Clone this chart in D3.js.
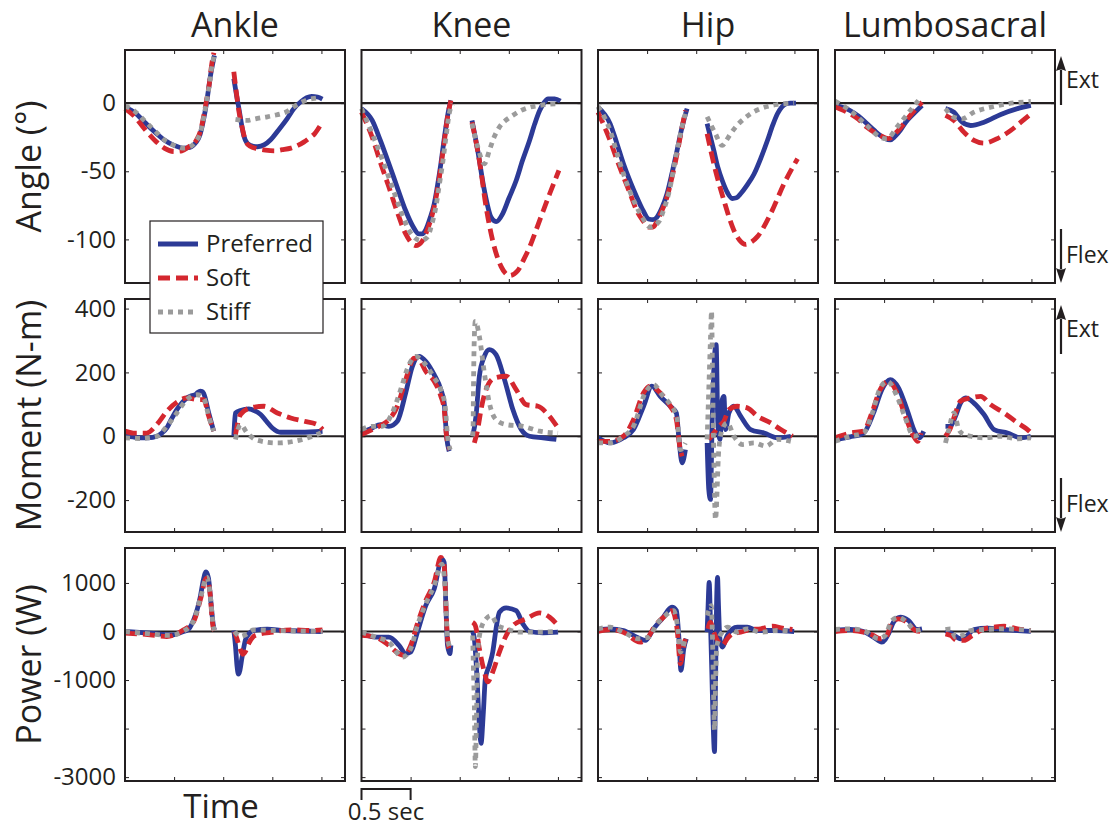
<!DOCTYPE html>
<html>
<head>
<meta charset="utf-8">
<script src="https://cdn.jsdelivr.net/npm/d3@7"></script>
<style>
  html, body { margin: 0; padding: 0; background: #fff; }
  svg { display: block; font-family: "Open Sans", "Noto Sans", sans-serif; }
</style>
</head>
<body>
<svg id="chart" width="1117" height="830"></svg>
<script>
// ---- labels & axes ----
const joints = ["Ankle", "Knee", "Hip", "Lumbosacral"];
const quantities = ["Angle (°)", "Moment (N-m)", "Power (W)"];
const conditions = ["Preferred", "Soft", "Stiff"];

const timeDomain = [0, 2.24];          // seconds
const timeTicks = [0.5, 1, 1.5, 2];
const angleDomain = [-132, 39];
const angleTicks = [-100, -50, 0];
const momentDomain = [-300, 430];
const momentTicks = [-200, 0, 200, 400];
const powerDomain = [-3080, 1720];
const powerTicks = [-3000, -2000, -1000, 0, 1000];
const powerLabelled = [-3000, -1000, 0, 1000];
const scaleBar = [0, 0.5];              // seconds
const scaleBarLabel = "0.5 sec";

// ---- joint angles (deg), each series = [first phase, second phase] of [time s, value] ----
const ankleAnglePreferred = [
  [[0,-3],[0.1,-7],[0.2,-14],[0.3,-21],[0.4,-27],[0.5,-31],[0.6,-33],[0.66,-32.5],[0.72,-29],[0.76,-24],[0.8,-12],[0.83,0],[0.85,10],[0.87,20],[0.89,28],[0.91,35]],
  [[1.108,18],[1.135,6],[1.16,-4],[1.19,-17],[1.21,-24],[1.245,-29.5],[1.28,-31],[1.35,-32],[1.42,-30.5],[1.48,-27],[1.56,-20],[1.65,-11.5],[1.72,-4],[1.79,1],[1.85,4],[1.9,5],[1.96,4.5],[2.01,3]]
];
const ankleAngleSoft = [
  [[0,-4],[0.1,-10],[0.2,-19],[0.3,-27],[0.4,-33],[0.5,-35.5],[0.58,-35],[0.65,-32],[0.72,-28],[0.77,-20],[0.8,-10],[0.83,2],[0.86,15],[0.88,27],[0.905,37]],
  [[1.108,23],[1.13,10],[1.16,-6],[1.19,-17],[1.225,-27],[1.27,-31.5],[1.35,-33.5],[1.43,-34.5],[1.52,-35],[1.6,-34.2],[1.69,-33],[1.76,-31],[1.82,-28.6],[1.88,-25.5],[1.93,-22.5],[1.97,-18.5],[2.01,-14]]
];
const ankleAngleStiff = [
  [[0,-2],[0.1,-6],[0.2,-13],[0.3,-20],[0.4,-27],[0.5,-31],[0.6,-33],[0.66,-32],[0.72,-28],[0.77,-21],[0.8,-11],[0.83,1],[0.86,14],[0.88,25],[0.905,34]],
  [[1.125,-12],[1.18,-12.5],[1.244,-12.7],[1.31,-11.8],[1.38,-10.8],[1.45,-10],[1.517,-9],[1.59,-7.8],[1.653,-6],[1.71,-3],[1.755,-1],[1.81,1],[1.858,2.4],[1.93,3.5],[1.994,4]]
];

const kneeAnglePreferred = [
  [[0,-4],[0.109,-12.7],[0.19,-27],[0.279,-44.5],[0.36,-61],[0.45,-79],[0.52,-90],[0.586,-96],[0.62,-96],[0.654,-93],[0.7,-84],[0.74,-74],[0.775,-60],[0.808,-44.5],[0.835,-30],[0.859,-17.6],[0.885,-6],[0.91,2]],
  [[1.125,-12.7],[1.183,-34.7],[1.251,-64],[1.319,-83.7],[1.37,-87],[1.438,-81],[1.5,-70],[1.575,-56.8],[1.64,-42],[1.711,-27.4],[1.765,-15],[1.814,-5.4],[1.86,0.5],[1.899,3.2],[1.967,3.2],[2.025,1.5]]
];
const kneeAngleSoft = [
  [[0,-6.6],[0.109,-25],[0.19,-43],[0.279,-61.6],[0.36,-79],[0.45,-96],[0.552,-104.5],[0.62,-101],[0.67,-93],[0.723,-81.2],[0.77,-65],[0.808,-47],[0.845,-27],[0.876,-10.3],[0.91,2]],
  [[1.125,-14],[1.2,-42],[1.268,-76],[1.336,-101],[1.422,-120],[1.507,-126.5],[1.592,-122.8],[1.65,-115],[1.711,-105.7],[1.814,-86],[1.916,-66.5],[2.01,-49.4]]
];
const kneeAngleStiff = [
  [[0,-4],[0.123,-25],[0.22,-43],[0.313,-61.6],[0.4,-79],[0.484,-93.4],[0.545,-99],[0.603,-100.8],[0.671,-98.3],[0.715,-89],[0.757,-76.3],[0.79,-61],[0.825,-44.5],[0.86,-25],[0.893,-7.8],[0.927,-0.5]],
  [[1.125,-15],[1.183,-32],[1.251,-44.5],[1.302,-34.7],[1.35,-25],[1.404,-17.6],[1.47,-12.5],[1.54,-9],[1.62,-5.5],[1.711,-3],[1.8,-1.8],[1.882,-1],[2.018,-0.5]]
];

const hipAnglePreferred = [
  [[0,-3],[0.123,-15],[0.19,-29],[0.259,-44.5],[0.33,-58],[0.395,-69],[0.46,-79],[0.515,-85],[0.56,-85.5],[0.6,-83.7],[0.65,-77],[0.703,-66.5],[0.755,-51],[0.805,-34.7],[0.845,-21],[0.873,-12.7],[0.907,-4]],
  [[1.111,-15],[1.179,-34.7],[1.22,-47],[1.265,-56.8],[1.32,-66],[1.367,-70],[1.41,-69.5],[1.452,-66.5],[1.52,-60],[1.589,-52],[1.66,-40],[1.725,-27.4],[1.78,-16],[1.827,-7.8],[1.87,-3],[1.912,-0.5],[1.96,0],[2.015,0]]
];
const hipAngleSoft = [
  [[0,-6.6],[0.123,-27.4],[0.19,-41],[0.259,-54],[0.33,-67],[0.395,-79],[0.455,-86],[0.515,-91],[0.56,-91],[0.6,-87],[0.65,-79],[0.703,-69],[0.755,-54],[0.805,-37.2],[0.85,-20],[0.89,-5.4]],
  [[1.111,-22.5],[1.196,-49.4],[1.282,-71.4],[1.384,-93.4],[1.44,-100.5],[1.503,-103.7],[1.56,-102],[1.623,-98],[1.759,-81],[1.895,-59],[2.032,-40.8]]
];
const hipAngleStiff = [
  [[0,-2.4],[0.123,-20],[0.19,-36],[0.259,-51.9],[0.395,-76.3],[0.46,-85],[0.532,-91],[0.617,-87.3],[0.67,-78],[0.719,-66.5],[0.805,-34.7],[0.85,-19],[0.89,-7.8]],
  [[1.111,-10],[1.196,-22.5],[1.265,-31],[1.3,-28],[1.35,-22.5],[1.42,-16],[1.486,-11.5],[1.57,-7],[1.657,-4],[1.827,-1],[1.997,0]]
];

const lumbarAnglePreferred = [
  [[0,-1.7],[0.153,-5.4],[0.24,-9.5],[0.324,-15],[0.4,-20],[0.46,-23.7],[0.51,-26],[0.562,-27],[0.61,-24.5],[0.665,-20],[0.72,-14],[0.784,-9],[0.886,-1.7]],
  [[1.125,-4],[1.21,-6.6],[1.295,-14],[1.381,-16.4],[1.517,-14],[1.688,-8.3],[1.858,-4],[1.994,-1.7]]
];
const lumbarAngleSoft = [
  [[0,-2.9],[0.153,-7.8],[0.24,-12],[0.324,-17.6],[0.46,-23.7],[0.545,-26],[0.631,-21],[0.767,-9],[0.886,0.7]],
  [[1.125,-9],[1.21,-12.7],[1.312,-21.3],[1.415,-27.4],[1.517,-29.4],[1.653,-26],[1.79,-20],[1.892,-14],[1.977,-9]]
];
const lumbarAngleStiff = [
  [[0,1.5],[0.153,-5.4],[0.324,-16.4],[0.46,-25],[0.528,-26.2],[0.631,-17.6],[0.767,-5.4],[0.876,4.4]],
  [[1.125,-4],[1.21,-10.3],[1.295,-11.5],[1.415,-6.6],[1.585,-3],[1.756,-0.5],[1.994,1.2]]
];

// ---- joint moments (N-m) ----
const ankleMomentPreferred = [
  [[0,0],[0.08,-2],[0.153,-5],[0.24,-5],[0.324,0],[0.375,10],[0.426,26],[0.475,55],[0.528,83.5],[0.58,105],[0.63,120],[0.675,127],[0.716,130],[0.74,137],[0.767,141],[0.785,140],[0.801,134],[0.852,73],[0.903,16]],
  [[1.108,0],[1.115,40],[1.125,73],[1.176,81],[1.261,85.6],[1.32,80],[1.381,68],[1.44,47],[1.5,26],[1.585,12.5],[1.79,12.5],[2.011,15.7]]
];
const ankleMomentSoft = [
  [[0,16],[0.085,10],[0.222,10],[0.324,36.5],[0.426,78],[0.528,106.5],[0.63,120],[0.733,115],[0.801,115],[0.852,63],[0.903,16]],
  [[1.125,5],[1.176,68],[1.278,89],[1.415,94],[1.551,73],[1.687,57.4],[1.824,47],[1.96,36.5],[2.011,21]]
];
const ankleMomentStiff = [
  [[0,-5],[0.153,-7],[0.324,0],[0.426,31],[0.528,73],[0.63,115],[0.733,130],[0.801,120],[0.852,63],[0.903,16]],
  [[1.125,-10],[1.176,36.5],[1.244,10],[1.347,-12.5],[1.551,-21],[1.721,-15.7],[1.858,-5],[1.994,10]]
];

const kneeMomentPreferred = [
  [[0,10],[0.109,26],[0.194,36.5],[0.279,31],[0.365,47],[0.45,136],[0.518,219],[0.586,250],[0.654,235],[0.74,193],[0.808,146],[0.842,104],[0.866,0],[0.893,-47]],
  [[1.132,0],[1.166,63],[1.2,188],[1.251,250.6],[1.302,271.5],[1.37,256],[1.456,177.5],[1.541,83.5],[1.626,21],[1.711,0],[1.848,-5],[1.984,-10]]
];
const kneeMomentSoft = [
  [[0,5],[0.109,21],[0.211,36.5],[0.279,52],[0.365,94],[0.45,177],[0.535,245],[0.586,240],[0.654,203.6],[0.74,172],[0.808,125],[0.842,83.5],[0.866,0],[0.9,-42]],
  [[1.149,-21],[1.183,21],[1.217,83.5],[1.268,146],[1.353,182.7],[1.473,188],[1.575,146],[1.677,99],[1.797,94],[1.899,68],[2.001,26]]
];
const kneeMomentStiff = [
  [[0,21],[0.109,31],[0.211,31],[0.313,73],[0.399,146],[0.484,224.5],[0.552,250],[0.637,230],[0.74,183],[0.808,146],[0.852,94],[0.876,0],[0.903,-42]],
  [[1.132,0],[1.136,21],[1.14,146],[1.149,313],[1.159,360],[1.2,313],[1.251,198],[1.302,104],[1.37,52],[1.473,36.5],[1.643,31],[1.814,16],[2.001,10]]
];

const hipMomentPreferred = [
  [[0,-5],[0.123,-21],[0.259,-5],[0.361,21],[0.464,94],[0.549,157],[0.634,125],[0.736,94],[0.798,73],[0.822,0],[0.856,-83.5],[0.89,-42]],
  [[1.111,-21],[1.128,-167],[1.145,-198],[1.162,42],[1.186,250],[1.203,287],[1.22,42],[1.241,-10],[1.265,115],[1.282,125],[1.299,21],[1.333,73],[1.384,94],[1.452,63],[1.554,21],[1.691,10],[1.827,-5],[1.963,0]]
];
const hipMomentSoft = [
  [[0,-16],[0.123,-16],[0.259,0],[0.361,52],[0.464,136],[0.532,157],[0.634,136],[0.736,94],[0.798,52],[0.832,-31],[0.856,-63]],
  [[1.128,-10],[1.179,10],[1.23,31],[1.282,47],[1.333,83.5],[1.418,94],[1.52,89],[1.623,63],[1.759,42],[1.861,21],[1.98,0]]
];
const hipMomentStiff = [
  [[0,-21],[0.123,-21],[0.259,0],[0.361,31],[0.481,136],[0.566,162],[0.651,130],[0.736,99],[0.805,57],[0.839,-42],[0.89,-21]],
  [[1.111,-10],[1.128,146],[1.145,303],[1.156,392],[1.166,198],[1.179,-63],[1.196,-261],[1.23,-42],[1.265,21],[1.316,42],[1.384,0],[1.469,-26],[1.589,-21],[1.708,-31],[1.827,-10],[1.963,-16]]
];

const lumbarMomentPreferred = [
  [[0,-10],[0.153,-2],[0.29,10],[0.392,73],[0.477,146],[0.562,177.5],[0.648,151],[0.733,83.5],[0.818,10],[0.862,-5],[0.903,15.7]],
  [[1.125,31],[1.176,31],[1.227,63],[1.278,104],[1.33,120],[1.415,104],[1.517,68],[1.619,21],[1.756,10],[1.892,-5],[1.994,0]]
];
const lumbarMomentSoft = [
  [[0,-5],[0.153,10],[0.29,16],[0.375,73],[0.46,146],[0.545,172],[0.631,136],[0.716,63],[0.801,0],[0.842,-16],[0.876,10]],
  [[1.125,0],[1.176,26],[1.227,73],[1.278,110],[1.381,120],[1.483,125],[1.585,99],[1.722,73],[1.858,42],[1.96,21],[2.0,10]]
];
const lumbarMomentStiff = [
  [[0,-16],[0.153,0],[0.29,10],[0.375,68],[0.46,151],[0.535,172],[0.631,125],[0.716,57],[0.801,0],[0.852,5]],
  [[1.125,-21],[1.159,21],[1.21,73],[1.261,21],[1.312,5],[1.381,0],[1.517,-5],[1.688,0],[1.858,-8],[1.994,-5]]
];

// ---- joint powers (W) ----
const anklePowerPreferred = [
  [[0,0],[0.256,-34],[0.494,-68],[0.597,0],[0.631,20],[0.699,240],[0.767,718],[0.8,1080],[0.825,1230],[0.85,1100],[0.875,600],[0.9,120],[0.91,34]],
  [[1.108,20],[1.125,-300],[1.14,-700],[1.155,-880],[1.17,-800],[1.19,-550],[1.227,-171],[1.27,-30],[1.312,20],[1.449,48],[1.619,20],[2.011,0]]
];
const anklePowerSoft = [
  [[0,-34],[0.256,-68],[0.426,-103],[0.597,34],[0.699,205],[0.767,650],[0.828,1094],[0.862,855],[0.896,103],[0.91,20]],
  [[1.115,0],[1.14,-150],[1.176,-380],[1.2,-470],[1.23,-400],[1.261,-240],[1.3,-120],[1.347,-68],[1.483,-20],[1.687,34],[1.892,20],[2.011,34]]
];
const anklePowerStiff = [
  [[0,0],[0.256,-50],[0.45,-80],[0.597,10],[0.699,220],[0.767,680],[0.835,1120],[0.865,800],[0.9,100],[0.91,20]],
  [[1.115,0],[1.176,-103],[1.227,-68],[1.312,34],[1.517,20],[2.011,0]]
];

const kneePowerPreferred = [
  [[0,-48],[0.143,-116],[0.279,-116],[0.382,-287],[0.45,-458],[0.501,-424],[0.569,-14],[0.654,533],[0.74,875],[0.818,1490],[0.842,1422],[0.859,533],[0.876,-287],[0.9,-458],[0.91,-287]],
  [[1.132,0],[1.149,-150],[1.173,-834],[1.2,-1928],[1.217,-2304],[1.241,-1655],[1.261,-971],[1.302,-697],[1.336,-424],[1.37,55],[1.404,397],[1.473,485],[1.575,430],[1.643,157],[1.711,0],[1.848,-27],[2.001,-14]]
];
const kneePowerSoft = [
  [[0,-82],[0.143,-116],[0.279,-287],[0.382,-458],[0.433,-492],[0.501,-287],[0.569,157],[0.654,636],[0.74,1012],[0.808,1525],[0.842,1354],[0.866,191],[0.893,-355],[0.91,-321]],
  [[1.132,191],[1.159,123],[1.2,-355],[1.251,-834],[1.285,-1039],[1.336,-834],[1.404,-424],[1.473,-82],[1.541,123],[1.677,260],[1.814,383],[1.916,294],[2.001,123]]
];
const kneePowerStiff = [
  [[0,-14],[0.143,-116],[0.279,-219],[0.416,-526],[0.501,-355],[0.569,123],[0.654,567],[0.74,944],[0.818,1388],[0.852,875],[0.876,-150],[0.91,-355]],
  [[1.132,-82],[1.139,-697],[1.149,-1518],[1.159,-2783],[1.173,-1518],[1.183,-424],[1.217,55],[1.268,260],[1.319,328],[1.387,123],[1.473,55],[1.609,-14],[1.779,-14],[2.001,0]]
];

const hipPowerPreferred = [
  [[0,41],[0.123,55],[0.259,20],[0.395,-116],[0.481,-185],[0.566,55],[0.651,260],[0.753,499],[0.798,430],[0.822,-82],[0.845,-800],[0.873,-355],[0.9,-150]],
  [[1.111,-14],[1.121,533],[1.132,1012],[1.145,191],[1.159,-834],[1.173,-1928],[1.186,-2475],[1.196,-1176],[1.207,533],[1.217,1115],[1.227,533],[1.241,-150],[1.265,-321],[1.316,-82],[1.418,89],[1.52,89],[1.623,20],[1.793,20],[1.997,0]]
];
const hipPowerSoft = [
  [[0,0],[0.123,41],[0.259,-14],[0.429,-219],[0.498,-150],[0.583,123],[0.668,294],[0.753,430],[0.805,55],[0.839,-663],[0.873,-287],[0.89,-150]],
  [[1.118,55],[1.145,191],[1.179,-14],[1.207,-150],[1.265,-287],[1.316,-150],[1.367,-48],[1.452,-14],[1.554,41],[1.657,55],[1.776,109],[1.878,68],[1.98,41]]
];
const hipPowerStiff = [
  [[0,55],[0.123,89],[0.259,-14],[0.412,-150],[0.515,-116],[0.6,157],[0.685,328],[0.77,430],[0.811,89],[0.839,-424],[0.89,-116]],
  [[1.111,328],[1.128,431],[1.152,533],[1.166,-150],[1.173,-834],[1.179,-1518],[1.186,-2035],[1.196,-1176],[1.207,-355],[1.23,-150],[1.265,-14],[1.316,89],[1.418,-14],[1.52,55],[1.657,-14],[1.827,20],[1.98,0]]
];

const lumbarPowerPreferred = [
  [[0,20],[0.153,41],[0.29,0],[0.392,-116],[0.477,-219],[0.545,-48],[0.596,191],[0.665,294],[0.75,224],[0.835,41],[0.886,55]],
  [[1.125,20],[1.193,-48],[1.278,-150],[1.347,-82],[1.415,41],[1.551,68],[1.722,41],[1.858,20],[1.994,0]]
];
const lumbarPowerSoft = [
  [[0,0],[0.153,20],[0.29,-14],[0.392,-82],[0.46,-150],[0.528,-82],[0.579,191],[0.648,260],[0.733,191],[0.818,20],[0.869,0]],
  [[1.125,-48],[1.176,-82],[1.244,-185],[1.312,-185],[1.398,-82],[1.517,55],[1.619,89],[1.722,109],[1.858,55],[1.994,20]]
];
const lumbarPowerStiff = [
  [[0,41],[0.153,55],[0.29,20],[0.375,-82],[0.443,-150],[0.511,-82],[0.579,226],[0.648,294],[0.733,191],[0.818,20],[0.869,41]],
  [[1.125,41],[1.176,55],[1.227,-116],[1.295,-82],[1.381,20],[1.517,41],[1.722,55],[1.858,41],[1.994,20]]
];

// ---- table: rows = quantity, cols = joint, cells = [Preferred, Soft, Stiff] ----
const table = [
  [[ankleAnglePreferred, ankleAngleSoft, ankleAngleStiff],
   [kneeAnglePreferred, kneeAngleSoft, kneeAngleStiff],
   [hipAnglePreferred, hipAngleSoft, hipAngleStiff],
   [lumbarAnglePreferred, lumbarAngleSoft, lumbarAngleStiff]],
  [[ankleMomentPreferred, ankleMomentSoft, ankleMomentStiff],
   [kneeMomentPreferred, kneeMomentSoft, kneeMomentStiff],
   [hipMomentPreferred, hipMomentSoft, hipMomentStiff],
   [lumbarMomentPreferred, lumbarMomentSoft, lumbarMomentStiff]],
  [[anklePowerPreferred, anklePowerSoft, anklePowerStiff],
   [kneePowerPreferred, kneePowerSoft, kneePowerStiff],
   [hipPowerPreferred, hipPowerSoft, hipPowerStiff],
   [lumbarPowerPreferred, lumbarPowerSoft, lumbarPowerStiff]]
];

const rowAxes = [
  { domain: angleDomain, ticks: angleTicks, labelled: angleTicks },
  { domain: momentDomain, ticks: momentTicks, labelled: momentTicks },
  { domain: powerDomain, ticks: powerTicks, labelled: powerLabelled }
];

// ---- styling ----
const styles = {
  Preferred: { color: "#2c3a96", dash: null },
  Soft:      { color: "#d4272f", dash: "12,6" },
  Stiff:     { color: "#9b9b9b", dash: "5,5" }
};
const ink = "#231f20";
const lineW = 4.8;

// ---- layout ----
const panelW = 220, panelH = 233;
const colX = [125, 361.5, 598, 835];
const rowY = [50, 299, 548];

const svg = d3.select("#chart");
svg.append("rect").attr("width", 1117).attr("height", 830).attr("fill", "#fff");

const x = d3.scaleLinear().domain(timeDomain).range([0, panelW]);

rowAxes.forEach((ax, r) => {
  const y = d3.scaleLinear().domain(ax.domain).range([panelH, 0]);
  const line = d3.line()
    .x(d => x(d[0])).y(d => y(d[1]))
    .curve(d3.curveMonotoneX);

  joints.forEach((joint, c) => {
    const g = svg.append("g").attr("transform", `translate(${colX[c]},${rowY[r]})`);

    // inward ticks on all four sides
    const tickStyle = sel => {
      sel.select(".domain").remove();
      sel.selectAll(".tick line").attr("stroke", ink).attr("stroke-width", 1);
    };
    const left = d3.axisLeft(y).tickValues(ax.ticks).tickSize(-4).tickPadding(9)
      .tickFormat(d => (c === 0 && ax.labelled.includes(d)) ? String(d) : "");
    g.append("g").call(left).call(tickStyle)
      .selectAll("text").attr("fill", ink).attr("font-size", 24)
      .attr("font-family", "'Open Sans', sans-serif");
    g.append("g").attr("transform", `translate(${panelW},0)`)
      .call(d3.axisRight(y).tickValues(ax.ticks).tickSize(-4).tickFormat(""))
      .call(tickStyle);
    g.append("g")
      .call(d3.axisTop(x).tickValues(timeTicks).tickSize(-4).tickFormat(""))
      .call(tickStyle);
    g.append("g").attr("transform", `translate(0,${panelH})`)
      .call(d3.axisBottom(x).tickValues(timeTicks).tickSize(-4).tickFormat(""))
      .call(tickStyle);

    // zero reference
    g.append("line")
      .attr("x1", 0).attr("x2", panelW)
      .attr("y1", y(0)).attr("y2", y(0))
      .attr("stroke", ink).attr("stroke-width", 2.2);

    // traces
    const cell = table[r][c];
    conditions.forEach((cond, k) => {
      cell[k].forEach(seg => {
        g.append("path")
          .datum(seg)
          .attr("d", line)
          .attr("fill", "none")
          .attr("stroke", styles[cond].color)
          .attr("stroke-width", lineW)
          .attr("stroke-linejoin", "round")
          .attr("stroke-dasharray", styles[cond].dash);
      });
    });

    // frame
    g.append("rect")
      .attr("width", panelW).attr("height", panelH)
      .attr("fill", "none").attr("stroke", ink).attr("stroke-width", 2);
  });
});

// column titles
joints.forEach((joint, c) => {
  svg.append("text")
    .attr("x", colX[c] + panelW / 2).attr("y", 37)
    .attr("text-anchor", "middle").attr("font-size", 34).attr("fill", ink)
    .text(joint);
});

// row titles
quantities.forEach((q, r) => {
  svg.append("text")
    .attr("transform", `translate(41,${rowY[r] + panelH / 2}) rotate(-90)`)
    .attr("text-anchor", "middle").attr("font-size", 34).attr("fill", ink)
    .text(q);
});

// time label
svg.append("text")
  .attr("x", 221).attr("y", 818)
  .attr("text-anchor", "middle").attr("font-size", 33).attr("fill", ink)
  .text("Time");

// time scale bar under the knee column
{
  const x0 = colX[1] + x(scaleBar[0]), x1 = colX[1] + x(scaleBar[1]);
  const yb = 789;
  svg.append("path")
    .attr("d", `M${x0},${yb + 11}V${yb}H${x1}V${yb + 11}`)
    .attr("fill", "none").attr("stroke", ink).attr("stroke-width", 2);
  svg.append("text")
    .attr("x", (x0 + x1) / 2).attr("y", 820)
    .attr("text-anchor", "middle").attr("font-size", 24).attr("fill", ink)
    .text(scaleBarLabel);
}

// extension / flexion direction arrows
const arrow = (xa, yTail, yTip) => {
  const dir = yTip < yTail ? -1 : 1;
  const headLen = 15, headHalf = 5;
  const yBase = yTip - dir * headLen;
  svg.append("line").attr("x1", xa).attr("x2", xa)
    .attr("y1", yTail).attr("y2", yBase + dir)
    .attr("stroke", ink).attr("stroke-width", 2.2);
  svg.append("path")
    .attr("d", `M${xa},${yTip}L${xa - headHalf},${yBase}Q${xa},${yBase + dir * 3} ${xa + headHalf},${yBase}Z`)
    .attr("fill", ink);
};

[0, 1].forEach(r => {
  const top = rowY[r], xa = 1061;
  arrow(xa, top + 55, top + 6);
  svg.append("text").attr("x", 1066).attr("y", top + 38)
    .attr("font-size", 23).attr("fill", ink).text("Ext");
  arrow(xa, top + 179, top + 233);
  svg.append("text").attr("x", 1066).attr("y", top + 213)
    .attr("font-size", 23).attr("fill", ink).text("Flex");
});

// legend
{
  const lg = svg.append("g").attr("transform", "translate(150,221)");
  lg.append("rect").attr("width", 173).attr("height", 112)
    .attr("fill", "#fff").attr("stroke", ink).attr("stroke-width", 1.2);
  conditions.forEach((cond, k) => {
    const yy = 23 + k * 34;
    lg.append("line").attr("x1", 8).attr("x2", 48).attr("y1", yy).attr("y2", yy)
      .attr("stroke", styles[cond].color).attr("stroke-width", lineW)
      .attr("stroke-dasharray", styles[cond].dash);
    lg.append("text").attr("x", 56).attr("y", yy).attr("dy", "0.35em")
      .attr("font-size", 24).attr("fill", ink).text(cond);
  });
}
</script>
</body>
</html>
